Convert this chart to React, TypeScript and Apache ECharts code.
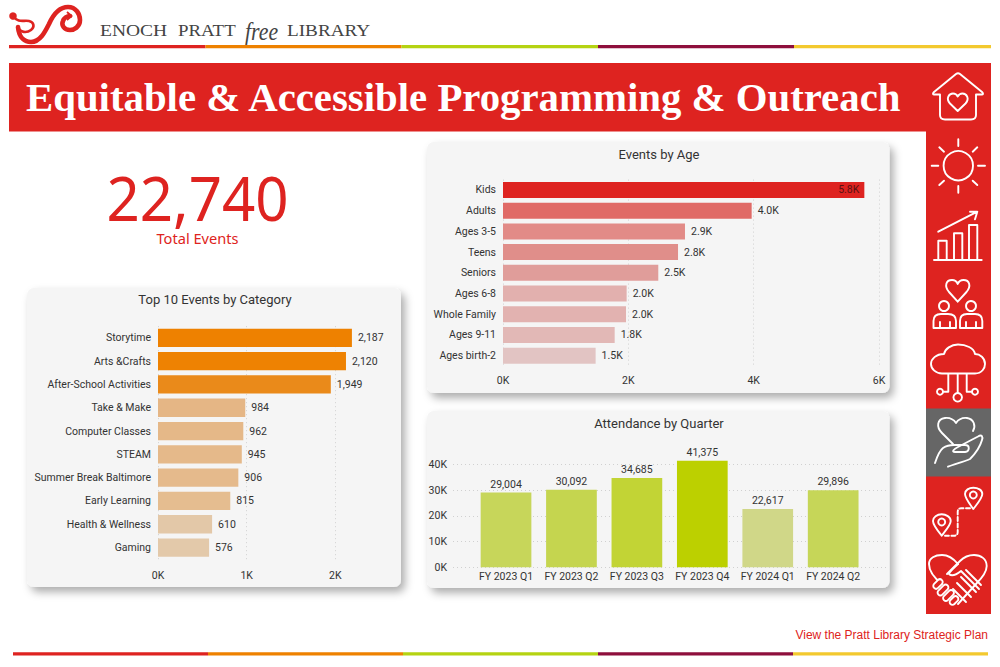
import React, { useEffect, useRef } from "react";
import * as echarts from "echarts";

const FONT = 'Roboto, "Noto Sans", sans-serif';
const INK = "#333333";
const RED = "#de2320";

const categoryNames = ["Storytime", "Arts &Crafts", "After-School Activities", "Take & Make", "Computer Classes", "STEAM", "Summer Break Baltimore", "Early Learning", "Health & Wellness", "Gaming"];
const categoryValues = [2187, 2120, 1949, 984, 962, 945, 906, 815, 610, 576];
const categoryColors = ["#ee8100", "#ee8202", "#ea8a1a", "#e5b685", "#e5b888", "#e5b98a", "#e5ba8c", "#e5bd90", "#e3c8a8", "#e3c9aa"];

const ageNames = ["Kids", "Adults", "Ages 3-5", "Teens", "Seniors", "Ages 6-8", "Whole Family", "Ages 9-11", "Ages birth-2"];
const ageValues = [5766, 3968, 2904, 2793, 2478, 1973, 1963, 1782, 1478];
const ageColors = ["#de2320", "#e06a66", "#e28b87", "#e08e8a", "#e09d9a", "#e2b0ae", "#e2b2b0", "#e2b8b6", "#e2c4c3"];

const quarterNames = ["FY 2023 Q1", "FY 2023 Q2", "FY 2023 Q3", "FY 2023 Q4", "FY 2024 Q1", "FY 2024 Q2"];
const quarterValues = [29004, 30092, 34685, 41375, 22617, 29896];
const quarterColors = ["#c7d65a", "#c5d54f", "#c2d435", "#bcd000", "#d0d788", "#c6d658"];

const stripeColors = [RED, "#ee8100", "#b5d312", "#8e0f3c", "#f3c92f"];

const SHAPES: Record<string, string> = {
  logoLoop: "M14 17 C18 23 24 20 29 21 C34 22 35 27 31 30 C27 33 20 33 18 27",
  logoS: "M18 27 C19 38 25 42 31 42 C40 42 45 32 49 24 C53 15 59 7 68 7 C76 7 80 14 80 20 C80 27 74 30 70 30 C64 30 61 25 63 21 C64 18 67 16 70 16",
  logoHead: "M67 12 L71.5 16 L67 20",
  house: "M940 94.5 H934 Q932 94 934 92 L956 74 Q958 72.5 960 74 L982 92 Q984 94 982 94.5 H976 V115 Q976 119.5 971 119.5 H945 Q940 119.5 940 115 Z M957.7 111 L950 103.5 C945.5 98.5 949 93.5 953 93.5 C955.5 93.5 957 95 957.7 96.5 C958.5 95 960 93.5 962.5 93.5 C966.5 93.5 970 98.5 965.5 103.5 Z",
  sunRays: "M958.3 139.3 V146 M958.3 186 V192.7 M931.7 165.7 H938.3 M978 165.7 H985 M939.3 147.3 L944 151.7 M977.3 147.3 L972.7 151.7 M939.3 185 L944 180.7 M977.3 185 L972.7 180.7",
  growth: "M934 260 H981.7 M938.3 260 V240.7 H946.7 V260 M954 260 V233.3 H962.3 V260 M969 260 V225 H977.3 V260 M938.3 231.7 L977.3 211.7 M970 211.7 H977.3 L975 219.3",
  people: "M957.7 301.7 L949 292 C944 286 946 280 952 280 C955 280 957 282 957.7 284 C958.5 282 960.5 280 963.5 280 C969.5 280 971.5 286 966.5 292 Z M933.5 328 V321 Q933.5 314 941 314 H948 Q956 314 956 321 V328 Z M940 322 V328 M950 322 V328 M960 328 V321 Q960 314 967 314 H975 Q982.3 314 982.3 321 V328 Z M966 322 V328 M976 322 V328",
  cloud: "M942 373.5 H975 C982 373.5 985 368 985 364 C985 358 980 354 975 354 C974 348 966 344.5 958 344.5 C951 344.5 945 349 944 354 C936 354 931 359 931 364 C931 369 936 373.5 942 373.5 Z M948.3 373.5 V391.7 H943 M957.7 373.5 V393 M966.7 373.5 V391.7 H972",
  careHeart: "M953 444 L942 433 C936 427 937 419 945 418 C950 417.5 954 420 956 423 C958 420 962 417.5 967 418 C974 419 976 426 973 431",
  careHand: "M935 463 C937 457 939 451 943 448 C946 446 950 445 954 445 H965 C970 445 970 451 965 452 H955 C951 452 954 449 958 447 L978 436.5 C982 434 983 437 982 440 C980 447 975 454 970 459 C963 462 955 464 948 466.7",
  pins: "M973.3 509 C969 503 965 498 965 494 C965 490 969 487.7 973.3 487.7 C978 487.7 982.3 490 982.3 494 C982.3 498 978 503 973.3 509 Z M941.7 535.7 C937 530 933 525 933 521 C933 517 937 514.3 941.7 514.3 C946 514.3 950.7 517 950.7 521 C950.7 525 946 530 941.7 535.7 Z",
  route: "M970 508.3 H961 Q957.7 508.3 957.7 512 V532 Q957.7 535.7 954 535.7 H945",
  shakeHeart: "M942 584 C933 577 929 571 929 564 C929 558 935 555 942 555 C948 555 953 558 958 564 M947 574 L960 561 C965 556 970 555 974 555 C981 555 986.7 559 986.7 566 C986.7 572 982 578 976 584 L958 604",
  shakeHand: "M958 564 C954 568 949 572 949 574 C952 577 956 575 961 571 L979 589 M966 570 L981 585 M961 577 L976 592 M957 583 L971 597 M953 589 L966 602",
};
Object.entries(SHAPES).forEach(([name, d]) => echarts.graphic.registerShape(name, echarts.graphic.extendPath(d, {})));

const WHITE_LINE = { stroke: "#ffffff", fill: "none", lineWidth: 1.9, lineJoin: "round", lineCap: "round" };
const iconPath = (type: string) => ({ type, style: WHITE_LINE });
const ring = (cx: number, cy: number, r: number) => ({ type: "circle", shape: { cx, cy, r }, style: WHITE_LINE });
const capsule = (x: number, y: number, w: number) => ({
  type: "rect", x, y, rotation: Math.PI / 4,
  shape: { x: -w / 2, y: -2.8, width: w, height: 5.6, r: 2.8 }, style: { ...WHITE_LINE, fill: RED },
});
const block = (x: number, y: number, width: number, height: number, fill: string) => ({ type: "rect", z: -5, shape: { x, y, width, height }, style: { fill } });
const panel = (x: number, y: number, width: number, height: number) => ({
  type: "rect", z: -4, shape: { x, y, width, height, r: 7 },
  style: { fill: "#f5f5f5", shadowBlur: 9, shadowOffsetX: 4, shadowOffsetY: 5, shadowColor: "rgba(0,0,0,0.32)" },
});
const word = (text: string, x: number, y: number, font: string, fill: string, align = "left", scaleX = 1) => ({
  type: "text", x, y, scaleX, z: 3,
  style: { text, font, fill, align, textAlign: align, verticalAlign: "middle", textVerticalAlign: "middle" },
});
const serif = "16px \"Liberation Serif\"";
const BIG = '"Noto Sans", sans-serif';

const kFormat = (v: number) => `${Math.round(v / 1000)}K`;
const dotted = { show: true, lineStyle: { type: [1, 3] as number[], color: "#d0d0d0", width: 1 } };
const axisText = { color: INK, fontFamily: FONT, fontSize: 10.5 };
const titleText = { color: INK, fontFamily: FONT, fontSize: 13, fontWeight: "normal" };

function App() {
  const ref = useRef<HTMLDivElement>(null);
  useEffect(() => {
    document.body.style.margin = "0";
    const chart = echarts.init(ref.current!, null, { renderer: "svg" });
    const stripe = (y: number, h: number, stops: number[]) =>
      stripeColors.map((c, i) => block(stops[i], y, stops[i + 1] - stops[i], h, c));
    const elements: any[] = [
      ...stripe(45, 3.3, [9, 205.5, 401.5, 598, 794, 991]),
      ...stripe(652.3, 3.3, [13, 208, 403, 598, 793, 988]),
      block(9, 63, 982, 68.5, RED),
      block(926, 131, 65, 483, RED),
      block(926, 408.5, 65, 68, "#666666"),
      panel(27, 288, 374, 299),
      panel(427, 142, 462.5, 251),
      panel(427, 411, 462.5, 177),
      { type: "logoLoop", style: { stroke: RED, fill: "none", lineWidth: 2.6, lineCap: "round" } },
      { type: "logoS", style: { stroke: RED, fill: "none", lineWidth: 4.6, lineCap: "round" } },
      { type: "logoHead", style: { stroke: RED, fill: "none", lineWidth: 1.8 } },
      { type: "circle", shape: { cx: 13, cy: 16, r: 3.8 }, style: { fill: RED } },
      word("ENOCH", 100, 31, serif, "#444444", "left", 1.22),
      word("PRATT", 178, 31, serif, "#444444", "left", 1.18),
      word("free", 245, 31, 'italic 26px "Liberation Serif"', "#444444", "left", 0.84),
      word("LIBRARY", 287, 31, serif, "#444444", "left", 1.2),
      word("Equitable & Accessible Programming & Outreach", 26, 97, 'bold 40.8px "Liberation Serif"', "#ffffff"),
      word("22,740", 197.5, 197, `62px ${BIG}`, RED, "center", 0.94),
      word("Total Events", 197.5, 238, `14.6px ${BIG}`, RED, "center"),
      word("View the Pratt Library Strategic Plan", 988, 635, '12px "Liberation Sans"', RED, "right"),
      iconPath("house"),
      ring(958.3, 165.7, 14.7),
      iconPath("sunRays"),
      iconPath("growth"),
      iconPath("people"),
      ring(944, 306, 5),
      ring(971, 306, 5),
      iconPath("cloud"),
      ring(940, 391.7, 3),
      ring(957.7, 397.3, 4.3),
      ring(975, 391.7, 3),
      iconPath("careHeart"),
      iconPath("careHand"),
      iconPath("pins"),
      ring(973.3, 495, 3.5),
      ring(941.7, 522, 3.5),
      { type: "route", style: { ...WHITE_LINE, lineDash: [4, 2.5] } },
      iconPath("shakeHeart"),
      iconPath("shakeHand"),
      capsule(938, 584, 11),
      capsule(943, 590, 13),
      capsule(948.5, 595.5, 13),
      capsule(954, 600.5, 10),
    ];

    const barLabel = { show: true, position: "right" as const, distance: 6, ...axisText };
    chart.setOption({
      animation: false,
      backgroundColor: "#ffffff",
      title: [
        { text: "Top 10 Events by Category", left: 210, top: 288, textAlign: "center", textStyle: titleText },
        { text: "Events by Age", left: 654, top: 143, textAlign: "center", textStyle: titleText },
        { text: "Attendance by Quarter", left: 654, top: 412, textAlign: "center", textStyle: titleText },
      ],
      graphic: { elements },
      grid: [
        { left: 158, top: 326.2, width: 266, height: 233 },
        { left: 503, top: 179.6, width: 376, height: 186.4 },
        { left: 473.3, top: 464.3, width: 392.6, height: 103 },
        { left: 453, top: 464.3, width: 435, height: 103 },
      ],
      xAxis: [
        { gridIndex: 0, type: "value", min: 0, max: 3000, interval: 1000, axisLine: { show: false }, axisTick: { show: false },
          splitLine: { ...dotted, showMaxLine: false }, axisLabel: { ...axisText, margin: 11, formatter: kFormat, showMaxLabel: false } },
        { gridIndex: 1, type: "value", min: 0, max: 6000, interval: 2000, axisLine: { show: false }, axisTick: { show: false },
          splitLine: dotted, axisLabel: { ...axisText, margin: 9, formatter: kFormat } },
        { gridIndex: 2, type: "category", data: quarterNames, axisLine: { show: false }, axisTick: { show: false },
          axisLabel: { ...axisText, margin: 4, interval: 0 } },
        { gridIndex: 3, type: "category", show: false, data: quarterNames },
      ],
      yAxis: [
        { gridIndex: 0, type: "category", inverse: true, data: categoryNames, axisLine: { show: false }, axisTick: { show: false },
          axisLabel: { ...axisText, margin: 7, interval: 0 } },
        { gridIndex: 1, type: "category", inverse: true, data: ageNames, axisLine: { show: false }, axisTick: { show: false },
          axisLabel: { ...axisText, margin: 7, interval: 0 } },
        { gridIndex: 2, type: "value", show: false, min: 0, max: 40000, interval: 10000, splitLine: { show: false } },
        { gridIndex: 3, type: "value", min: 0, max: 40000, interval: 10000, axisLine: { show: false }, axisTick: { show: false },
          splitLine: dotted, axisLabel: { ...axisText, margin: 6, formatter: kFormat } },
      ],
      series: [
        { type: "bar", xAxisIndex: 0, yAxisIndex: 0, barWidth: 18.3,
          data: categoryValues.map((value, i) => ({ value, itemStyle: { color: categoryColors[i] } })),
          label: { ...barLabel, formatter: (p: any) => p.value.toLocaleString("en-US") } },
        { type: "bar", xAxisIndex: 1, yAxisIndex: 1, barWidth: 16,
          data: ageValues.map((value, i) => ({
            value, itemStyle: { color: ageColors[i] },
            ...(i === 0 ? { label: { position: "insideRight", distance: 5, color: "#5a1212" } } : {}),
          })),
          label: { ...barLabel, formatter: (p: any) => `${(p.value / 1000).toFixed(1)}K` } },
        { type: "bar", xAxisIndex: 2, yAxisIndex: 2, barWidth: 50.7,
          data: quarterValues.map((value, i) => ({ value, itemStyle: { color: quarterColors[i] } })),
          clip: false,
          label: { ...barLabel, position: "top", distance: 3, formatter: (p: any) => p.value.toLocaleString("en-US") } },
      ],
    });
    return () => chart.dispose();
  }, []);
  return <div ref={ref} style={{ width: 1000, height: 667 }} />;
}

export default App;
